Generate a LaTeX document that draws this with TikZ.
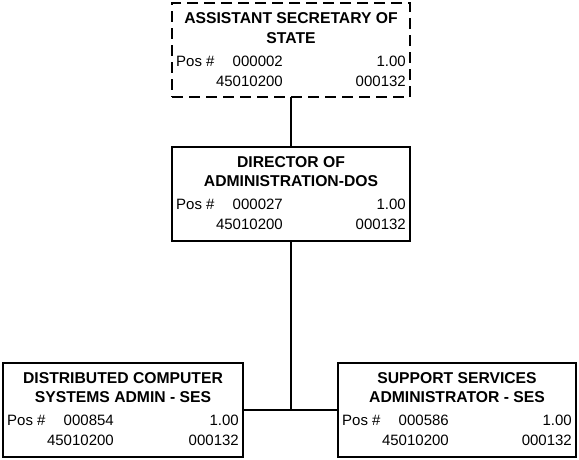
\documentclass[tikz,border=0pt]{standalone}
\usepackage{fontspec}
\setmainfont{Liberation Sans}
\begin{document}
\begin{tikzpicture}[x=1pt,y=-1pt,
  posbox/.style={draw=black, line width=2pt, minimum width=238pt, minimum height=94pt, inner sep=0pt, outer sep=0pt},
  vacant/.style={posbox, dashed, dash pattern=on 11pt off 6pt},
  link/.style={draw=black, line width=2pt},
  titletext/.style={font=\fontsize{15.7}{18}\selectfont\bfseries, anchor=base, inner sep=0pt},
  datatext/.style={font=\fontsize{15}{18}\selectfont, inner sep=0pt}]
\useasboundingbox (0,0) rectangle (579,459);

% two title lines, then position number / FTE and org code / class code
\newcommand\orgtext[6]{%
  \node[titletext] (#1-t1) at ([yshift=-20.5]#1.north) {#2};
  \node[titletext] (#1-t2) at ([yshift=-40]#1.north) {#3};
  \node[datatext, anchor=base west] (#1-pl) at ([xshift=4,yshift=-63]#1.north west) {Pos \#};
  \node[datatext, anchor=base east] (#1-pn) at ([xshift=111,yshift=-63]#1.north west) {#4};
  \node[datatext, anchor=base east] (#1-fte) at ([xshift=-4,yshift=-63]#1.north east) {#5};
  \node[datatext, anchor=base east] (#1-org) at ([xshift=111,yshift=-83]#1.north west) {45010200};
  \node[datatext, anchor=base east] (#1-cls) at ([xshift=-4,yshift=-83]#1.north east) {#6};
}

\node[vacant] (ass) at (291,50) {};
\node[posbox] (dir) at (291,193.5) {};
\node[posbox, minimum width=240pt] (dca) at (123,409.5) {};
\node[posbox] (ssa) at (457,409.5) {};

\orgtext{ass}{ASSISTANT SECRETARY OF}{STATE}{000002}{1.00}{000132}
\orgtext{dir}{DIRECTOR OF}{ADMINISTRATION-DOS}{000027}{1.00}{000132}
\orgtext{dca}{DISTRIBUTED COMPUTER}{SYSTEMS ADMIN - SES}{000854}{1.00}{000132}
\orgtext{ssa}{SUPPORT SERVICES}{ADMINISTRATOR - SES}{000586}{1.00}{000132}

% reporting lines
\coordinate (jn) at (dir.south |- dca.east);
\draw[link] (ass.south) -- (dir.north);
\draw[link] (dir.south) -- (jn);
\draw[link] (dca.east) -- (ssa.west);
\end{tikzpicture}
\end{document}
